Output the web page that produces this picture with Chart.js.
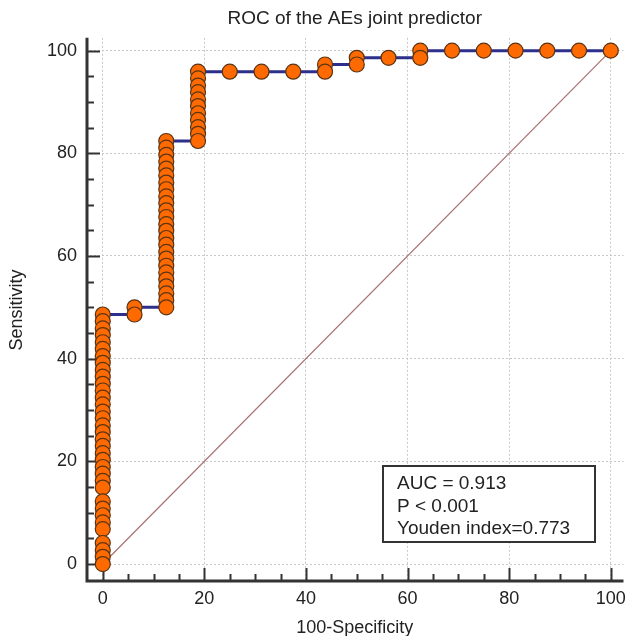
<!DOCTYPE html>
<html>
<head>
<meta charset="utf-8">
<script src="https://cdn.jsdelivr.net/npm/chart.js@4.4.1/dist/chart.umd.min.js"></script>
<style>
  html, body { margin:0; padding:0; background:#fff; }
  #wrap { width:632px; height:636px; position:relative; }
</style>
</head>
<body>
<div id="wrap"><canvas id="roc"></canvas></div>
<script>
/* DATA: ROC points (100-Specificity, Sensitivity), listed from top-right down to origin */
const rocX = [100, 93.75, 87.5, 81.25, 75, 68.75, 62.5, 62.5, 56.25, 50, 50, 43.75, 43.75, 37.5, 31.25, 25,
  18.75, 18.75, 18.75, 18.75, 18.75, 18.75, 18.75, 18.75, 18.75, 18.75, 18.75,
  12.5, 12.5, 12.5, 12.5, 12.5, 12.5, 12.5, 12.5, 12.5, 12.5, 12.5, 12.5, 12.5,
  12.5, 12.5, 12.5, 12.5, 12.5, 12.5, 12.5, 12.5, 12.5, 12.5, 12.5, 12.5,
  6.25, 6.25,
  0, 0, 0, 0, 0, 0, 0, 0, 0, 0, 0, 0, 0, 0, 0, 0, 0, 0, 0,
  0, 0, 0, 0, 0, 0, 0, 0, 0, 0, 0, 0, 0, 0, 0, 0];
const rocY = [100, 100, 100, 100, 100, 100, 100, 98.6, 98.6, 98.6, 97.3, 97.3, 95.9, 95.9, 95.9, 95.9,
  95.9, 94.6, 93.2, 91.9, 90.5, 89.2, 87.8, 86.5, 85.1, 83.8, 82.4,
  82.4, 81.1, 79.7, 78.4, 77.0, 75.7, 74.3, 73.0, 71.6, 70.3, 68.9, 67.6, 66.2,
  64.9, 63.5, 62.2, 60.8, 59.5, 58.1, 56.8, 55.4, 54.1, 52.7, 51.4, 50.0,
  50.0, 48.6,
  48.6, 47.3, 45.9, 44.6, 43.2, 41.9, 40.5, 39.2, 37.8, 36.5, 35.1, 33.8, 32.4, 31.1, 29.7, 28.4, 27.0, 25.7, 24.3,
  23.0, 21.6, 20.3, 18.9, 17.6, 16.2, 14.9, 12.2, 10.8, 9.5, 8.1, 6.8, 4.1, 2.7, 1.4, 0];

/* reference diagonal */
const refX = [0, 100];
const refY = [0, 100];

/* axis ticks */
const majorTicks = [0, 20, 40, 60, 80, 100];
const minorStep = 5;

const statLines = ['AUC = 0.913', 'P < 0.001', 'Youden index=0.773'];

const FONT = '"Liberation Sans", Arial, sans-serif';
const INK = '#222';

/* MedCalc style axes: thick lines at the edge, ticks pointing inward */
const axesPlugin = {
  id: 'axes',
  beforeDatasetsDraw(chart){
    const {ctx, chartArea:a, scales:{x, y}} = chart;
    ctx.save();
    ctx.strokeStyle = '#333';
    ctx.lineWidth = 2;
    for(let v = 0; v <= 100; v += minorStep){
      const len = v % 20 === 0 ? 14 : 8;
      const px = Math.round(x.getPixelForValue(v)) + 0.5;
      ctx.beginPath(); ctx.moveTo(px, a.bottom); ctx.lineTo(px, a.bottom - len); ctx.stroke();
      const py = Math.round(y.getPixelForValue(v)) + 0.5;
      ctx.beginPath(); ctx.moveTo(a.left, py); ctx.lineTo(a.left + len, py); ctx.stroke();
    }
    ctx.lineWidth = 3;
    ctx.beginPath();
    ctx.moveTo(a.left + 1, a.top);
    ctx.lineTo(a.left + 1, a.bottom - 1);
    ctx.lineTo(a.right, a.bottom - 1);
    ctx.stroke();
    ctx.restore();
  }
};

const statsPlugin = {
  id: 'stats',
  afterDatasetsDraw(chart){
    const {ctx, scales:{x, y}} = chart;
    const l = Math.round(x.getPixelForValue(55.2)), r = Math.round(x.getPixelForValue(96.8));
    const t = Math.round(y.getPixelForValue(19.0)), b = Math.round(y.getPixelForValue(4.3));
    ctx.save();
    ctx.fillStyle = '#fff';
    ctx.fillRect(l, t, r - l, b - t);
    ctx.strokeStyle = '#333';
    ctx.lineWidth = 2;
    ctx.strokeRect(l, t, r - l, b - t);
    ctx.fillStyle = INK;
    ctx.font = '19px ' + FONT;
    ctx.textBaseline = 'middle';
    statLines.forEach((s, i)=> ctx.fillText(s, l + 14, t + 18 + i * 22.5));
    ctx.restore();
  }
};

const setTicks = (scale)=>{ scale.ticks = majorTicks.map(v=>({value:v})); };

new Chart(document.getElementById('roc'), {
  type: 'scatter',
  data: {
    datasets: [{
      data: rocX.map((v, i)=>({x:v, y:rocY[i]})),
      showLine: true,
      borderColor: '#2d2f8c',
      borderWidth: 3,
      pointRadius: 7.5,
      pointHoverRadius: 7.5,
      pointBackgroundColor: '#ff6a00',
      pointBorderColor: '#5a3414',
      pointBorderWidth: 1.2
    }, {
      data: refX.map((v, i)=>({x:v, y:refY[i]})),
      showLine: true,
      borderColor: '#a87070',
      borderWidth: 1.2,
      pointRadius: 0
    }]
  },
  options: {
    responsive: true,
    maintainAspectRatio: false,
    animation: false,
    devicePixelRatio: 1,
    layout: { autoPadding: false, padding: {left:0, right:1, top:0, bottom:0} },
    plugins: {
      legend: { display:false },
      tooltip: { enabled:false },
      title: {
        display: true,
        text: 'ROC of the AEs joint predictor',
        fullSize: false,
        color: INK,
        font: { family: FONT, size: 19, weight: 'normal' },
        padding: { top:7, bottom:8 }
      }
    },
    scales: {
      x: {
        type: 'linear',
        min: -3.3, max: 102.5,
        afterBuildTicks: setTicks,
        afterFit: (s)=>{ s.height = 54; },
        grid: { color:'#c8c8c8', lineWidth:1, drawTicks:false },
        border: { display:false, dash:[2,2] },
        ticks: { color:INK, font:{family:FONT, size:18}, padding:6, maxRotation:0 },
        title: { display:true, text:'100-Specificity', color:INK, font:{family:FONT, size:18}, padding:{top:0, bottom:-3} }
      },
      y: {
        type: 'linear',
        min: -3.5, max: 102.5,
        afterBuildTicks: setTicks,
        afterFit: (s)=>{ s.width = 86; },
        grid: { color:'#c8c8c8', lineWidth:1, drawTicks:false },
        border: { display:false, dash:[2,2] },
        ticks: { color:INK, font:{family:FONT, size:18}, padding:9 },
        title: { display:true, text:'Sensitivity', color:INK, font:{family:FONT, size:18}, padding:{top:6, bottom:0} }
      }
    }
  },
  plugins: [axesPlugin, statsPlugin]
});
</script>
</body>
</html>
